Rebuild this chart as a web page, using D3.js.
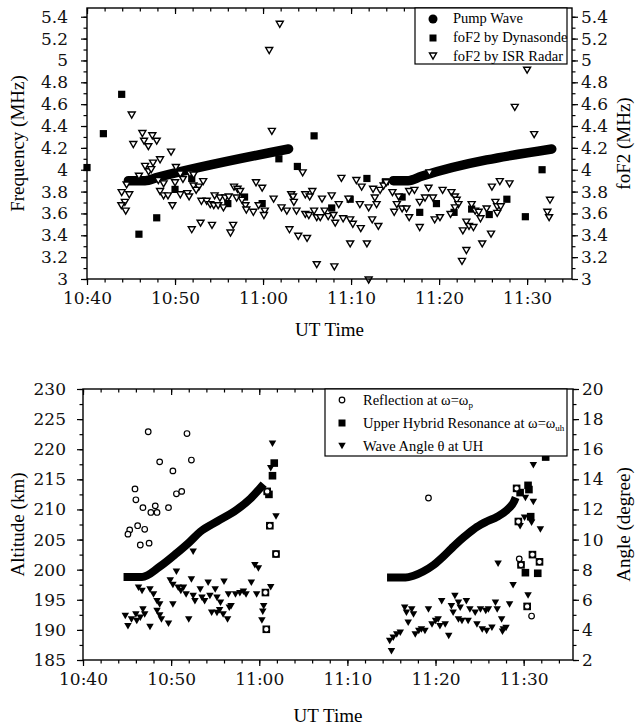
<!DOCTYPE html>
<html><head><meta charset="utf-8">
<script src="https://cdn.jsdelivr.net/npm/d3@7"></script>
<style>body{margin:0;background:#fff}</style>
</head><body>
<svg id="c" width="644" height="727"></svg>
<script>
// ---------- DATA (time = minutes after 10:40 UT) ----------
const xTickMinutes = [0, 10, 20, 30, 40, 50];
const xTickLabels = ["10:40", "10:50", "11:00", "11:10", "11:20", "11:30"];
const freqTicks = [3, 3.2, 3.4, 3.6, 3.8, 4, 4.2, 4.4, 4.6, 4.8, 5, 5.2, 5.4];
const altTicks = [185, 190, 195, 200, 205, 210, 215, 220, 225, 230];
const angleTicks = [2, 4, 6, 8, 10, 12, 14, 16, 18, 20];

const topLegend = ["Pump Wave", "foF2 by Dynasonde", "foF2 by ISR Radar"];

const pumpWaveA = [[4.7,3.9],[6.6,3.9],[8.0,3.93],[22.9,4.19]];
const pumpWaveB = [[34.8,3.9],[36.5,3.9],[38.0,3.94],[52.8,4.19]];

const dynasonde = [[0.0,4.02],[1.86,4.33],[3.94,4.69],[5.9,3.41],[7.92,3.56],[10.0,3.82],[11.9,3.92],
 [16.0,3.69],[17.9,3.75],[19.9,3.69],[21.8,4.10],[23.9,4.03],[25.8,4.31],[27.8,3.65],[29.9,3.73],
 [31.8,3.92],[33.9,3.89],[35.8,3.75],[37.8,3.61],[39.7,3.69],[41.7,3.61],[43.7,3.64],[45.7,3.59],
 [47.7,3.73],[49.8,3.57],[51.7,4.00]];

const isrRadar = [
 [5.08,4.51],[6.29,4.34],[7.42,4.32],[5.26,4.24],[6.48,4.27],[7.92,4.27],[6.97,4.22],[9.55,4.17],[8.3,4.10],
 [7.5,4.07],[6.6,4.04],[7.0,3.99],[7.3,4.01],[10.1,4.03],[5.9,3.95],[10.6,3.97],[11.7,3.97],[12.1,3.96],
 [10.9,3.92],[4.5,3.87],[8.1,3.91],[8.7,3.88],[10.0,3.89],[13.2,3.90],[12.1,3.86],[12.7,3.85],[12.4,3.82],
 [3.94,3.80],[4.8,3.78],[8.3,3.81],[8.7,3.77],[9.2,3.77],[10.6,3.78],[11.4,3.79],[11.6,3.76],[4.3,3.71],
 [3.9,3.68],[4.4,3.63],[9.7,3.68],[13.0,3.72],[13.6,3.72],[14.0,3.69],[14.5,3.77],[14.4,3.68],[15.1,3.75],
 [15.7,3.75],[16.1,3.76],[14.9,3.68],[15.5,3.66],[16.7,3.85],[17.1,3.83],[17.0,3.75],[11.9,3.46],[12.9,3.52],
 [14.2,3.50],[16.6,3.50],[16.3,3.43],
 [21.0,4.36],[24.5,3.98],[28.9,3.93],[30.6,3.91],[31.2,3.85],[19.2,3.89],[19.9,3.84],[17.4,3.81],[17.6,3.73],
 [18.0,3.68],[18.1,3.64],[18.9,3.62],[19.5,3.68],[20.2,3.63],[20.1,3.59],[21.2,3.74],[22.1,3.66],[22.7,3.63],
 [23.2,3.78],[23.4,3.76],[23.5,3.71],[23.8,3.63],[24.8,3.78],[25.3,3.76],[25.6,3.81],[24.8,3.60],[25.2,3.59],
 [25.8,3.63],[26.1,3.57],[26.5,3.57],[26.7,3.74],[27.0,3.63],[27.8,3.77],[27.4,3.58],[28.0,3.59],[28.2,3.52],
 [28.6,3.69],[29.1,3.56],[29.7,3.74],[29.9,3.55],[30.2,3.51],[31.0,3.69],[31.1,3.47],[23.0,3.46],[24.0,3.40],
 [25.0,3.38],[29.9,3.33],[26.1,3.14],[28.1,3.12],
 [38.9,3.98],[32.5,3.83],[32.7,3.75],[33.3,3.82],[33.7,3.86],[34.0,3.89],[32.0,3.66],[32.9,3.69],[34.7,3.80],
 [35.4,3.76],[35.2,3.69],[35.8,3.65],[36.3,3.65],[36.6,3.81],[37.2,3.82],[34.9,3.62],[36.6,3.57],[37.8,3.71],
 [38.4,3.75],[38.8,3.84],[39.3,3.75],[40.4,3.82],[39.5,3.55],[40.1,3.57],[41.4,3.80],[41.8,3.76],[42.0,3.73],
 [42.2,3.69],[41.8,3.66],[41.3,3.60],[43.7,3.69],[44.1,3.63],[44.5,3.62],[44.7,3.56],[45.4,3.65],[43.1,3.53],
 [43.4,3.49],[43.9,3.48],[42.7,3.45],[44.9,3.33],[43.1,3.27],[42.6,3.17],[31.8,3.33],[33.1,3.49],[32.4,3.55],
 [37.8,3.48],[32.0,3.0],
 [48.6,4.58],[50.8,4.33],[46.0,3.85],[46.9,3.90],[48.0,3.88],[46.4,3.71],[46.6,3.67],[47.0,3.67],[46.6,3.61],
 [45.9,3.42],[52.6,3.73],[52.3,3.62],[52.5,3.57],
 [21.9,5.34],[20.7,5.10],[50.0,4.92]];

const bottomLegend = ["Reflection at ω=ω", "Upper Hybrid Resonance at ω=ω", "Wave Angle θ at UH"];
const bottomLegendSub = ["p", "uh", ""];

const uhCurveA = [[4.6,198.8],[6.7,198.8],[8.7,200.5],[10.6,202.7],[12.1,204.6],[13.3,206.3],[15.2,208.0],
 [17.4,209.9],[19.0,211.8],[20.5,214.2]];
const uhCurveB = [[34.5,198.7],[36.6,198.7],[37.5,199.0],[38.6,199.7],[39.8,200.8],[40.9,202.2],[41.8,203.5],
 [42.8,204.9],[43.7,206.0],[44.7,207.1],[45.8,208.0],[47.0,208.8],[48.1,209.9],[48.9,211.3],[49.1,212.0]];

const uhPoints = [[21.7,217.7],[21.5,215.6],[21.1,212.5],[20.9,213.0],[21.2,207.3],[21.9,202.6],[20.7,196.2],
 [20.8,190.1],[49.2,213.5],[49.6,212.8],[50.5,214.0],[50.6,213.3],[50.8,208.8],[49.4,208.0],[49.7,200.8],
 [50.2,199.5],[51.0,202.5],[51.6,199.4],[51.8,201.3],[50.4,193.9],[52.5,218.7]];

const reflection = [[7.4,222.9],[11.8,222.6],[8.7,217.9],[12.3,218.2],[10.2,216.4],[5.9,213.4],[6.0,211.6],
 [10.6,212.6],[11.2,213.0],[6.8,210.3],[7.7,209.5],[8.2,210.6],[8.4,209.5],[9.7,210.3],[5.3,206.6],[5.1,205.9],
 [6.2,207.3],[7.0,206.7],[6.5,204.1],[7.5,204.4],
 [20.9,213.0],[21.2,207.3],[21.9,202.6],[20.7,196.2],[20.8,190.1],
 [39.2,211.9],[49.2,213.5],[49.4,208.0],[49.5,201.8],[49.7,200.8],[51.0,202.5],[51.8,201.3],[50.4,193.9],[50.9,192.3]];

const waveAngle = [
 [6.3,6.87],[6.7,6.65],[7.6,6.76],[8.0,6.43],[8.4,5.98],[8.7,5.76],[9.9,7.36],[10.2,7.05],[10.6,7.93],[10.8,6.87],
 [11.1,6.65],[11.4,6.87],[11.7,6.43],[12.3,7.42],[12.5,6.32],[12.7,5.98],[12.5,9.26],[13.3,6.76],[13.5,6.2],
 [13.8,5.98],[14.2,7.2],[14.4,6.32],[15.0,6.76],[15.2,6.2],[15.6,5.87],[16.0,7.27],[16.5,6.43],[16.8,5.65],
 [17.3,6.43],[17.8,6.5],[18.2,6.6],[18.5,6.43],[19.1,7.2],[19.5,8.37],[19.9,8.15],[19.7,6.43],[20.5,5.65],[20.3,4.7],
 [4.8,4.99],[5.1,4.32],[5.5,4.77],[6.0,5.1],[6.1,4.66],[6.8,5.43],[7.0,5.1],[6.5,4.88],[7.6,4.26],[8.4,5.32],
 [8.7,5.03],[8.9,4.77],[9.7,4.48],[10.2,5.76],[12.0,4.77],[14.6,5.21],[15.2,5.2],[15.5,5.37],[15.9,5.1],
 [16.4,4.77],[16.6,5.54],[20.4,5.27],[21.5,16.43],[21.3,14.8],[21.9,11.6],[21.3,6.9],
 [35.0,2.66],[34.8,3.33],[35.2,3.55],[35.6,3.77],[36.0,3.88],[36.5,5.54],[36.7,5.21],[36.9,4.54],[37.3,5.43],
 [37.5,5.1],[37.7,3.77],[38.1,3.99],[38.4,4.1],[38.8,3.99],[39.2,5.43],[39.6,4.43],[40.0,4.66],[40.3,4.77],
 [40.7,5.98],[40.5,4.32],[41.1,4.43],[41.5,3.66],[41.8,5.65],[42.0,5.21],[42.2,6.32],[42.6,5.87],[42.8,5.54],
 [42.6,4.77],[43.0,4.66],[43.5,5.98],[43.7,4.66],[43.9,5.43],[44.5,5.21],[44.7,4.43],[45.1,5.43],[45.3,4.1],
 [45.7,5.32],[46.0,5.43],[45.8,3.99],[46.4,4.21],[46.8,5.87],[47.0,5.43],[47.5,4.77],[47.7,4.1],[48.4,5.76],
 [47.1,8.46],[48.8,7.03],[50.5,6.36],[50.4,5.65],[51.1,15.0],[50.2,12.84],[51.1,12.56],[50.1,11.52],
 [50.9,11.18],[51.9,10.74],[49.6,10.96],[48.0,4.2],[47.6,3.95]];

// ---------- DRAWING ----------
const svg = d3.select("#c");
const tickFont = "DejaVu Serif, serif";
const textFont = "Liberation Serif, Times New Roman, serif";

function triPath(w, h) {
  return `M${-w/2},${-h/3}L${w/2},${-h/3}L0,${2*h/3}Z`;
}

function panel(cfg) {
  const g = svg.append("g");
  const {x, yL, yR, left, right, top, bottom} = cfg;
  const xMinor = d3.range(0, 55, 2);
  const fmtX = d => xTickLabels[xTickMinutes.indexOf(d)];
  g.append("g").attr("transform", `translate(0,${bottom})`)
    .call(d3.axisBottom(x).tickValues(xMinor).tickSize(3.5).tickFormat(""));
  g.append("g").attr("transform", `translate(0,${bottom})`)
    .call(d3.axisBottom(x).tickValues(xTickMinutes).tickSize(6).tickPadding(cfg.xPad).tickFormat(fmtX));
  g.append("g").attr("transform", `translate(0,${top})`)
    .call(d3.axisBottom(x).tickValues(xMinor).tickSize(3.5).tickFormat(""));
  g.append("g").attr("transform", `translate(0,${top})`)
    .call(d3.axisBottom(x).tickValues(xTickMinutes).tickSize(6).tickFormat(""));
  g.append("g").attr("transform", `translate(${left},0)`)
    .call(d3.axisLeft(yL).tickValues(cfg.yLMinor).tickSize(3.5).tickFormat(""));
  g.append("g").attr("transform", `translate(${left},0)`)
    .call(d3.axisLeft(yL).tickValues(cfg.yLTicks).tickSize(6).tickPadding(cfg.lPad).tickFormat(d3.format("~g")));
  g.append("g").attr("transform", `translate(${right},0)`)
    .call(d3.axisRight(yR).tickValues(cfg.yRMinor).tickSize(3.5).tickFormat(""));
  g.append("g").attr("transform", `translate(${right},0)`)
    .call(d3.axisRight(yR).tickValues(cfg.yRTicks).tickSize(6).tickPadding(3).tickFormat(d3.format("~g")));
  g.selectAll(".domain").remove();
  g.selectAll(".tick line").attr("stroke", "#000").attr("stroke-width", 1.2);
  g.selectAll(".tick text").attr("font-family", tickFont).attr("font-size", 17).attr("fill", "#111");
  g.append("rect").attr("x", left).attr("y", top).attr("width", right - left).attr("height", bottom - top)
    .attr("fill", "none").attr("stroke", "#000").attr("stroke-width", 1.4);
  const mid = (top + bottom) / 2;
  g.append("text").attr("transform", `translate(${cfg.lTitleX},${mid}) rotate(-90)`).attr("text-anchor", "middle")
    .attr("font-family", textFont).attr("font-size", 19).text(cfg.lTitle);
  g.append("text").attr("transform", `translate(${cfg.rTitleX},${mid}) rotate(-90)`).attr("text-anchor", "middle")
    .attr("font-family", textFont).attr("font-size", 19).text(cfg.rTitle);
  g.append("text").attr("x", (left + right) / 2).attr("y", cfg.xTitleY).attr("text-anchor", "middle")
    .attr("font-family", textFont).attr("font-size", 19).text("UT Time");
  return g;
}

// ---- Top panel ----
const T = {left: 87, right: 572, top: 8, bottom: 279};
const x1 = d3.scaleLinear().domain([0, 55.1]).range([T.left, T.right]);
const y1 = d3.scaleLinear().domain([3, 5.48]).range([T.bottom, T.top]);
const g1 = svg.append("g");
const line1 = d3.line().x(d => x1(d[0])).y(d => y1(d[1])).curve(d3.curveMonotoneX);
[pumpWaveA, pumpWaveB].forEach(pw => {
  g1.append("path").attr("d", line1(pw)).attr("fill", "none").attr("stroke", "#000")
    .attr("stroke-width", 9.5).attr("stroke-linecap", "round");
});
g1.selectAll("rect.dyn").data(dynasonde).join("rect").attr("class", "dyn")
  .attr("x", d => x1(d[0]) - 3.6).attr("y", d => y1(d[1]) - 3.6).attr("width", 7.2).attr("height", 7.2).attr("fill", "#000");
g1.selectAll("path.isr").data(isrRadar).join("path").attr("class", "isr")
  .attr("d", triPath(7, 6)).attr("transform", d => `translate(${x1(d[0])},${y1(d[1])})`)
  .attr("fill", "#fff").attr("stroke", "#000").attr("stroke-width", 1.4);

panel({x: x1, yL: y1, yR: y1, ...T, xPad: 7,
  yLTicks: freqTicks, yLMinor: d3.range(3, 5.45, 0.1), yRTicks: freqTicks, yRMinor: d3.range(3, 5.45, 0.1),
  lPad: 13, lTitle: "Frequency (MHz)", rTitle: "foF2 (MHz)", lTitleX: 24, rTitleX: 630, xTitleY: 336});

// top legend
const L1 = svg.append("g");
L1.append("rect").attr("x", 415).attr("y", 8).attr("width", 152).attr("height", 56)
  .attr("fill", "#fff").attr("stroke", "#000").attr("stroke-width", 1.2);
L1.append("circle").attr("cx", 433).attr("cy", 19).attr("r", 4.5).attr("fill", "#000");
L1.append("rect").attr("x", 429.5).attr("y", 34.5).attr("width", 7).attr("height", 7).attr("fill", "#000");
L1.append("path").attr("d", triPath(7, 6)).attr("transform", "translate(433,55)")
  .attr("fill", "#fff").attr("stroke", "#000").attr("stroke-width", 1.4);
topLegend.forEach((t, i) => {
  L1.append("text").attr("x", 453).attr("y", 23 + i * 19).attr("font-family", textFont)
    .attr("font-size", 14.5).text(t);
});

// ---- Bottom panel ----
const B = {left: 83, right: 573, top: 389, bottom: 660};
const x2 = d3.scaleLinear().domain([0, 55.6]).range([B.left, B.right]);
const y2 = d3.scaleLinear().domain([185, 230]).range([B.bottom, B.top]);
const y2r = d3.scaleLinear().domain([2, 20]).range([B.bottom, B.top]);
const g2 = svg.append("g");
g2.selectAll("path.wa").data(waveAngle).join("path").attr("class", "wa")
  .attr("d", triPath(7.5, 6.5)).attr("transform", d => `translate(${x2(d[0])},${y2r(d[1])})`).attr("fill", "#000");
const line2 = d3.line().x(d => x2(d[0])).y(d => y2(d[1])).curve(d3.curveMonotoneX);
[uhCurveA, uhCurveB].forEach(c => {
  g2.append("path").attr("d", line2(c)).attr("fill", "none").attr("stroke", "#000")
    .attr("stroke-width", 8).attr("stroke-linecap", "butt");
});
g2.selectAll("rect.uh").data(uhPoints).join("rect").attr("class", "uh")
  .attr("x", d => x2(d[0]) - 3.8).attr("y", d => y2(d[1]) - 3.8).attr("width", 7.6).attr("height", 7.6).attr("fill", "#000");
g2.selectAll("circle.rf").data(reflection).join("circle").attr("class", "rf")
  .attr("cx", d => x2(d[0])).attr("cy", d => y2(d[1])).attr("r", 2.8)
  .attr("fill", "#fff").attr("stroke", "#000").attr("stroke-width", 1.2);

panel({x: x2, yL: y2, yR: y2r, ...B, xPad: 7,
  yLTicks: altTicks, yLMinor: d3.range(185, 230.1, 2.5), yRTicks: angleTicks, yRMinor: d3.range(2, 20.1, 1),
  lPad: 11, lTitle: "Altitude (km)", rTitle: "Angle (degree)", lTitleX: 24, rTitleX: 630, xTitleY: 722});

// bottom legend
const L2 = svg.append("g");
L2.append("rect").attr("x", 325).attr("y", 389).attr("width", 242).attr("height", 67)
  .attr("fill", "#fff").attr("stroke", "#000").attr("stroke-width", 1.2);
L2.append("circle").attr("cx", 342).attr("cy", 400).attr("r", 2.8).attr("fill", "#fff").attr("stroke", "#000").attr("stroke-width", 1.2);
L2.append("rect").attr("x", 338.5).attr("y", 419.5).attr("width", 7).attr("height", 7).attr("fill", "#000");
L2.append("path").attr("d", triPath(7.5, 6.5)).attr("transform", "translate(342,445)").attr("fill", "#000");
bottomLegend.forEach((t, i) => {
  const tx = L2.append("text").attr("x", 363).attr("y", 405 + i * 23).attr("font-family", textFont).attr("font-size", 14.5);
  tx.append("tspan").text(t);
  if (bottomLegendSub[i]) tx.append("tspan").attr("font-size", 9).attr("dy", 3).text(bottomLegendSub[i]);
});
</script>
</body></html>
